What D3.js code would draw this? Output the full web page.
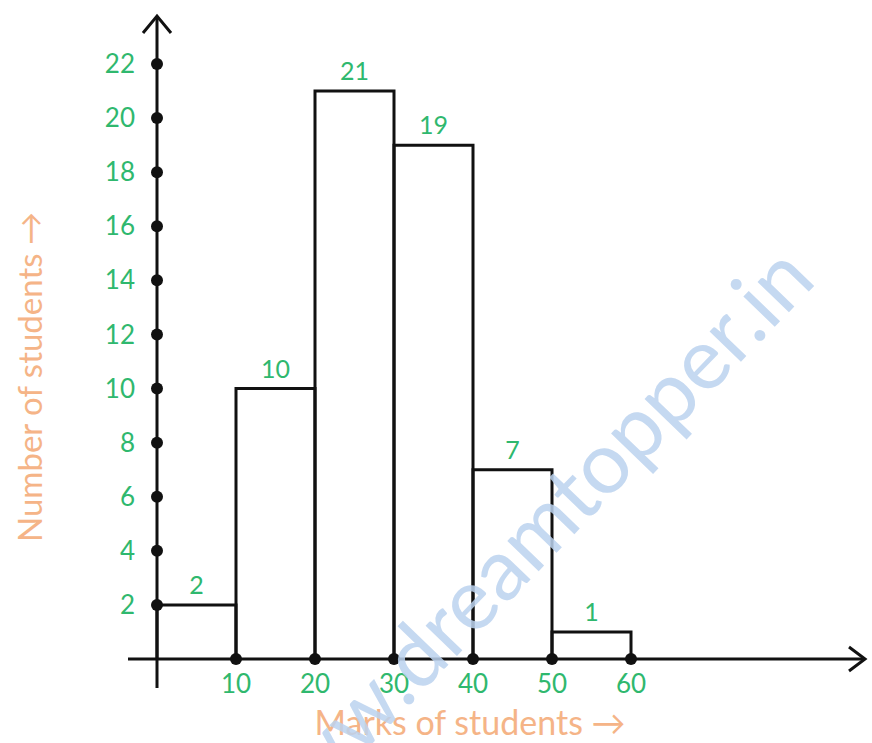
<!DOCTYPE html>
<html>
<head>
<meta charset="utf-8">
<script src="https://cdn.jsdelivr.net/npm/d3@7"></script>
<style>
  body { margin: 0; background: #fff; }
  svg text { font-family: Lato, "Open Sans", sans-serif; }
</style>
</head>
<body>
<div id="chart"></div>
<script>
// class intervals (lower bound) and frequencies
const classStarts = [0, 10, 20, 30, 40, 50];
const classWidth = 10;
const frequencies = [2, 10, 21, 19, 7, 1];
const xTicks = [10, 20, 30, 40, 50, 60];
const yTicks = [2, 4, 6, 8, 10, 12, 14, 16, 18, 20, 22];

const width = 872, height = 743;
const green = '#2fb86e', orange = '#f5b487';

const svg = d3.select('#chart').append('svg')
  .attr('width', width)
  .attr('height', height);

const x = d3.scaleLinear().domain([0, 60]).range([157, 631]);
const y = d3.scaleLinear().domain([0, 22]).range([659, 64]);

// bars
svg.append('g').selectAll('path')
  .data(classStarts)
  .join('path')
  .attr('d', (d, i) => {
    const x0 = x(d), x1 = x(d + classWidth), y0 = y(0), y1 = y(frequencies[i]);
    return `M${x0},${y0}V${y1}H${x1}V${y0}`;
  })
  .attr('fill', 'none')
  .attr('stroke', '#111')
  .attr('stroke-width', 3);

// bar value labels
svg.append('g').selectAll('text')
  .data(classStarts)
  .join('text')
  .attr('x', d => x(d + classWidth / 2))
  .attr('y', (d, i) => y(frequencies[i]) - 11)
  .attr('text-anchor', 'middle')
  .attr('font-size', 25)
  .attr('fill', green)
  .text((d, i) => frequencies[i]);

// axes
const axes = svg.append('g').attr('stroke', '#111').attr('stroke-width', 3).attr('fill', 'none');
axes.append('line').attr('x1', x(0)).attr('x2', x(0)).attr('y1', 688).attr('y2', 16);
axes.append('line').attr('x1', 128).attr('x2', 865).attr('y1', y(0)).attr('y2', y(0));
axes.append('path').attr('d', `M${x(0) - 14},33L${x(0)},16L${x(0) + 14},33`);
axes.append('path').attr('d', `M849,${y(0) - 12}L865,${y(0)}L849,${y(0) + 12}`);

// tick dots
svg.append('g').selectAll('circle')
  .data(yTicks)
  .join('circle')
  .attr('cx', x(0))
  .attr('cy', d => y(d))
  .attr('r', 6)
  .attr('fill', '#111');

svg.append('g').selectAll('circle')
  .data(xTicks)
  .join('circle')
  .attr('cx', d => x(d))
  .attr('cy', y(0))
  .attr('r', 6)
  .attr('fill', '#111');

// tick labels
svg.append('g').selectAll('text')
  .data(yTicks)
  .join('text')
  .attr('x', 135)
  .attr('y', d => y(d))
  .attr('dy', '0.35em')
  .attr('text-anchor', 'end')
  .attr('font-size', 26)
  .attr('fill', green)
  .text(d => d);

svg.append('g').selectAll('text')
  .data(xTicks)
  .join('text')
  .attr('x', d => x(d))
  .attr('y', 693)
  .attr('text-anchor', 'middle')
  .attr('font-size', 26)
  .attr('fill', green)
  .text(d => d);

// axis titles
svg.append('text')
  .attr('x', 470)
  .attr('y', 735)
  .attr('text-anchor', 'middle')
  .attr('font-size', 34)
  .attr('fill', orange)
  .text('Marks of students →');

svg.append('text')
  .attr('transform', 'translate(42,377) rotate(-90)')
  .attr('text-anchor', 'middle')
  .attr('font-size', 33)
  .attr('fill', orange)
  .text('Number of students →');

// watermark
svg.append('text')
  .attr('transform', 'translate(818,282) rotate(-46)')
  .attr('text-anchor', 'end')
  .attr('font-size', 86)
  .attr('fill', '#bcd3ef')
  .attr('opacity', 0.85)
  .text('www.dreamtopper.in');
</script>
</body>
</html>
